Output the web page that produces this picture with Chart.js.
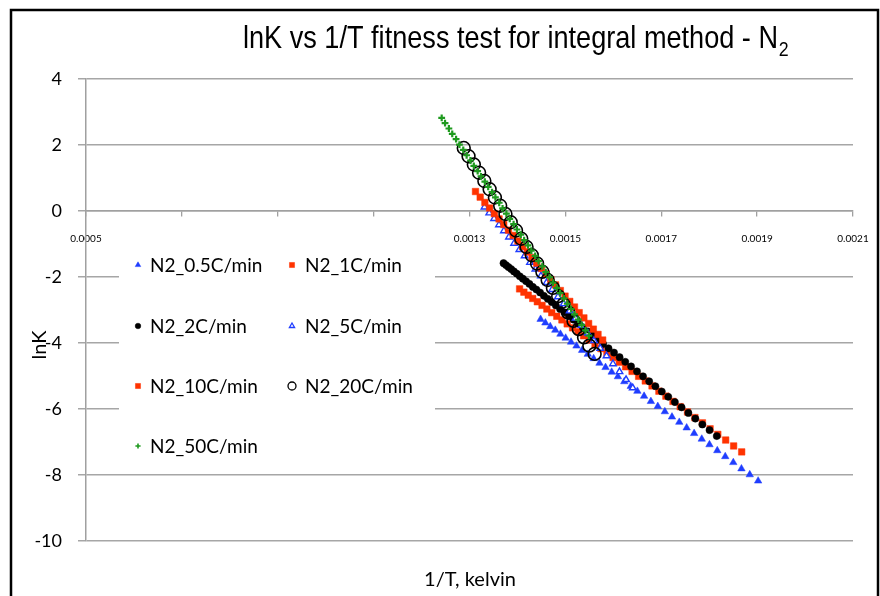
<!DOCTYPE html>
<html><head><meta charset="utf-8">
<script src="https://cdn.jsdelivr.net/npm/chart.js@4.4.1/dist/chart.umd.min.js"></script>
<style>html,body{margin:0;padding:0;background:#fff}canvas{display:block}</style>
</head><body>
<canvas id="c" width="880" height="596"></canvas>
<script>
// ---- data ----
const seriesNames = ['N2_0.5C/min','N2_1C/min','N2_2C/min','N2_5C/min','N2_10C/min','N2_20C/min','N2_50C/min'];
const xTickValues = [0.0005,0.0007,0.0009,0.0011,0.0013,0.0015,0.0017,0.0019,0.0021];
const yTickValues = [-10,-8,-6,-4,-2,0,2,4];

const X_05 = [0.0014483,0.0014583,0.0014685,0.0014790,0.0014897,0.0015006,0.0015118,0.0015232,0.0015349,0.0015467,0.0015589,0.0015712,0.0015838,0.0015966,0.0016096,0.0016229,0.0016364,0.0016502,0.0016642,0.0016784,0.0016928,0.0017075,0.0017224,0.0017376,0.0017530,0.0017686,0.0017845,0.0018006,0.0018169,0.0018335,0.0018503,0.0018673,0.0018846,0.0019021];
const Y_05 = [-3.28,-3.39,-3.50,-3.61,-3.73,-3.85,-3.97,-4.09,-4.22,-4.34,-4.47,-4.61,-4.74,-4.88,-5.02,-5.17,-5.31,-5.46,-5.61,-5.77,-5.92,-6.08,-6.24,-6.40,-6.57,-6.74,-6.91,-7.08,-7.26,-7.44,-7.62,-7.81,-7.99,-8.18];

const X_1 = [0.0014045,0.0014134,0.0014225,0.0014319,0.0014415,0.0014513,0.0014614,0.0014716,0.0014821,0.0014928,0.0015038,0.0015150,0.0015264,0.0015380,0.0015498,0.0015619,0.0015742,0.0015867,0.0015995,0.0016125,0.0016257,0.0016391,0.0016528,0.0016667,0.0016808,0.0016951,0.0017097,0.0017245,0.0017395,0.0017548,0.0017702,0.0017859,0.0018019,0.0018180,0.0018344,0.0018510,0.0018678];
const Y_1 = [-2.36,-2.46,-2.55,-2.65,-2.75,-2.86,-2.97,-3.08,-3.19,-3.30,-3.42,-3.54,-3.66,-3.78,-3.91,-4.04,-4.17,-4.30,-4.44,-4.58,-4.72,-4.86,-5.01,-5.15,-5.30,-5.46,-5.61,-5.77,-5.93,-6.09,-6.26,-6.42,-6.60,-6.77,-6.94,-7.12,-7.30];

const X_2 = [0.0013710,0.0013761,0.0013813,0.0013869,0.0013926,0.0013986,0.0014049,0.0014113,0.0014180,0.0014250,0.0014321,0.0014395,0.0014472,0.0014551,0.0014632,0.0014715,0.0014801,0.0014889,0.0014980,0.0015073,0.0015168,0.0015265,0.0015365,0.0015468,0.0015572,0.0015679,0.0015788,0.0015900,0.0016014,0.0016131,0.0016249,0.0016370,0.0016494,0.0016620,0.0016748,0.0016878,0.0017011,0.0017146,0.0017284,0.0017424,0.0017566,0.0017711,0.0017857,0.0018007,0.0018158];
const Y_2 = [-1.58,-1.64,-1.70,-1.76,-1.83,-1.90,-1.98,-2.05,-2.13,-2.21,-2.30,-2.38,-2.47,-2.57,-2.66,-2.76,-2.86,-2.97,-3.07,-3.18,-3.29,-3.41,-3.53,-3.65,-3.77,-3.90,-4.03,-4.16,-4.29,-4.43,-4.57,-4.71,-4.86,-5.01,-5.16,-5.31,-5.47,-5.63,-5.79,-5.95,-6.12,-6.29,-6.47,-6.64,-6.82];

const X_5 = [0.0013313,0.0013412,0.0013513,0.0013615,0.0013719,0.0013824,0.0013931,0.0014040,0.0014150,0.0014262,0.0014375,0.0014490,0.0014607,0.0014725,0.0014845,0.0014966,0.0015089,0.0015213,0.0015339,0.0015467,0.0015596,0.0015727,0.0015859,0.0015993,0.0016129,0.0016266,0.0016405];
const Y_5 = [0.12,-0.06,-0.23,-0.42,-0.60,-0.79,-0.98,-1.17,-1.36,-1.56,-1.76,-1.97,-2.17,-2.38,-2.60,-2.81,-3.03,-3.25,-3.47,-3.70,-3.93,-4.16,-4.39,-4.63,-4.87,-5.11,-5.36];

const X_10 = [0.0013125,0.0013223,0.0013321,0.0013420,0.0013518,0.0013616,0.0013715,0.0013813,0.0013911,0.0014010,0.0014108,0.0014206,0.0014305,0.0014403,0.0014501,0.0014600,0.0014698,0.0014796,0.0014895,0.0014993,0.0015091,0.0015190,0.0015288,0.0015386,0.0015485,0.0015583,0.0015681,0.0015778];
const Y_10 = [0.59,0.42,0.26,0.09,-0.08,-0.24,-0.41,-0.58,-0.74,-0.91,-1.08,-1.24,-1.41,-1.58,-1.74,-1.91,-2.08,-2.24,-2.41,-2.58,-2.74,-2.91,-3.08,-3.24,-3.41,-3.58,-3.74,-3.91];

const X_20 = [0.001288,0.001298,0.001309,0.001320,0.001331,0.001342,0.001353,0.001364,0.001375,0.001386,0.001397,0.001408,0.001419,0.001430,0.001441,0.001452,0.001463,0.001474,0.001485,0.001496,0.001506,0.001517,0.001528,0.001539,0.001550,0.001561];
const Y_20 = [1.91,1.66,1.41,1.16,0.91,0.66,0.41,0.16,-0.09,-0.34,-0.59,-0.84,-1.09,-1.34,-1.59,-1.84,-2.09,-2.33,-2.58,-2.83,-3.08,-3.33,-3.58,-3.83,-4.08,-4.33];

const X_50 = [0.001242,0.001249,0.001257,0.001264,0.001272,0.001279,0.001287,0.001294,0.001302,0.001309,0.001317,0.001324,0.001332,0.001339,0.001347,0.001354,0.001362,0.001369,0.001377,0.001384,0.001392,0.001399,0.001407,0.001414,0.001422,0.001429,0.001437,0.001444,0.001452,0.001459,0.001467,0.001474,0.001482,0.001489,0.001497,0.001504,0.001512,0.001519,0.001527,0.001534,0.001542,0.001549];
const Y_50 = [2.82,2.66,2.50,2.34,2.18,2.01,1.85,1.69,1.53,1.37,1.21,1.05,0.89,0.73,0.57,0.41,0.25,0.08,-0.08,-0.24,-0.40,-0.56,-0.72,-0.88,-1.04,-1.20,-1.36,-1.52,-1.68,-1.85,-2.01,-2.17,-2.33,-2.49,-2.65,-2.81,-2.97,-3.13,-3.29,-3.45,-3.62,-3.78];

// ---- build chart ----
const pts = (xs, ys) => xs.map((x, i) => ({x, y: ys[i]}));
const BLUE = '#1f3dff', RED = '#ff3300', GREEN = '#1f9a1f';
const styles = [
  {pointStyle:'triangle', pointRadius:4.3, backgroundColor:BLUE, borderColor:BLUE, pointBorderWidth:0.5, lr:3.2},
  {pointStyle:'rect', pointRadius:4.6, backgroundColor:RED, borderColor:RED, pointBorderWidth:0.5, lr:3.6},
  {pointStyle:'circle', pointRadius:3.6, backgroundColor:'#000', borderColor:'#000', pointBorderWidth:0.5, lr:2.8},
  {pointStyle:'triangle', pointRadius:3.8, backgroundColor:'#fff', borderColor:BLUE, pointBorderWidth:1.4, lr:3.0},
  {pointStyle:'rect', pointRadius:4.6, backgroundColor:RED, borderColor:RED, pointBorderWidth:0.5, lr:3.6},
  {pointStyle:'circle', pointRadius:6.4, backgroundColor:'rgba(0,0,0,0)', borderColor:'#000', pointBorderWidth:1.6, lr:4.0},
  {pointStyle:'cross', pointRadius:3.4, backgroundColor:GREEN, borderColor:GREEN, pointBorderWidth:2.2, lr:2.6}
];
const seriesData = [pts(X_05,Y_05), pts(X_1,Y_1), pts(X_2,Y_2), pts(X_5,Y_5), pts(X_10,Y_10), pts(X_20,Y_20), pts(X_50,Y_50)];

const datasets = seriesNames.map((name, i) => ({
  label: name,
  data: seriesData[i],
  showLine: false,
  pointStyle: styles[i].pointStyle,
  pointRadius: styles[i].pointRadius,
  pointHoverRadius: styles[i].pointRadius,
  pointBackgroundColor: styles[i].backgroundColor,
  pointBorderColor: styles[i].borderColor,
  pointBorderWidth: styles[i].pointBorderWidth,
  backgroundColor: styles[i].backgroundColor,
  borderColor: styles[i].borderColor,
  order: seriesNames.length - i
}));

const FONT = 'Lato, "Open Sans", sans-serif';

const decor = {
  id: 'decor',
  beforeDraw(chart) {
    const ctx = chart.ctx;
    ctx.save(); ctx.fillStyle = '#fff'; ctx.fillRect(0, 0, chart.width, chart.height); ctx.restore();
  },
  afterDraw(chart) {
    const ctx = chart.ctx;
    ctx.save();
    // legend box (covers gridlines and hidden tick labels)
    ctx.fillStyle = '#fff';
    ctx.fillRect(119, 222, 316, 246);
    const cols = [{mx: 138, tx: 150}, {mx: 292, tx: 305}];
    const rows = [266, 327, 387, 447];
    ctx.font = '19px ' + FONT;
    ctx.textBaseline = 'middle';
    ctx.textAlign = 'left';
    seriesNames.forEach((name, i) => {
      const c = cols[i % 2], r = rows[Math.floor(i / 2)];
      const s = styles[i];
      ctx.save();
      ctx.fillStyle = s.backgroundColor; ctx.strokeStyle = s.borderColor;
      ctx.lineWidth = i === 6 ? 1.6 : (i === 3 || i === 5 ? 1.3 : 0.5);
      Chart.helpers.drawPoint(ctx, {pointStyle: s.pointStyle, radius: s.lr, rotation: 0, borderWidth: ctx.lineWidth}, c.mx, r - 1);
      ctx.restore();
      ctx.fillStyle = '#000';
      ctx.fillText(name, c.tx, r);
    });
    // title
    ctx.fillStyle = '#000';
    ctx.textBaseline = 'alphabetic';
    ctx.font = '32px "Liberation Sans", Arial, sans-serif';
    const main = 'lnK vs 1/T fitness test for integral method - N';
    const w = ctx.measureText(main).width;
    const sx = 535 / w;
    ctx.save();
    ctx.translate(243, 48);
    ctx.scale(sx, 1);
    ctx.fillText(main, 0, 0);
    ctx.font = '21px "Liberation Sans", Arial, sans-serif';
    ctx.fillText('2', w + 1, 8);
    ctx.restore();
    // axis titles
    ctx.font = '20px ' + FONT;
    ctx.textAlign = 'center';
    ctx.textBaseline = 'middle';
    ctx.fillText('1/T, kelvin', 470, 580);
    ctx.save();
    ctx.translate(40, 345);
    ctx.rotate(-Math.PI / 2);
    ctx.fillText('lnK', 0, 0);
    ctx.restore();
    // outer frame
    ctx.strokeStyle = '#000';
    ctx.lineWidth = 2.5;
    ctx.strokeRect(11, 10, 867, 600);
    ctx.restore();
  }
};

new Chart(document.getElementById('c'), {
  type: 'scatter',
  data: { datasets },
  options: {
    responsive: false,
    animation: false,
    events: [],
    layout: { padding: { left: 0, top: 79, right: 27, bottom: 55 } },
    plugins: { legend: { display: false }, title: { display: false }, tooltip: { enabled: false } },
    scales: {
      x: {
        type: 'linear',
        position: { y: 0 },
        min: 0.0005, max: 0.0021,
        afterBuildTicks: s => { s.ticks = xTickValues.map(v => ({ value: v })); },
        afterFit: s => { s.paddingLeft = 0; s.paddingRight = 0; },
        ticks: { callback: v => Number(v).toFixed(4), font: { family: FONT, size: 10 }, color: '#000', padding: 17, maxRotation: 0, autoSkip: false },
        grid: { drawOnChartArea: false, drawTicks: true, tickLength: 5, color: '#a0a0a0', lineWidth: 1.3 },
        border: { display: true, color: '#a0a0a0', width: 1.5 }
      },
      y: {
        type: 'linear',
        min: -10, max: 4,
        afterBuildTicks: s => { s.ticks = yTickValues.map(v => ({ value: v })); },
        afterFit: s => { s.width = 86; },
        ticks: { font: { family: FONT, size: 18 }, color: '#000', padding: 16 },
        grid: { color: '#a6a6a6', lineWidth: 1.5, tickLength: 8, drawTicks: true },
        border: { display: true, color: '#a0a0a0', width: 1.5 }
      }
    }
  },
  plugins: [decor]
});
</script>
</body></html>
